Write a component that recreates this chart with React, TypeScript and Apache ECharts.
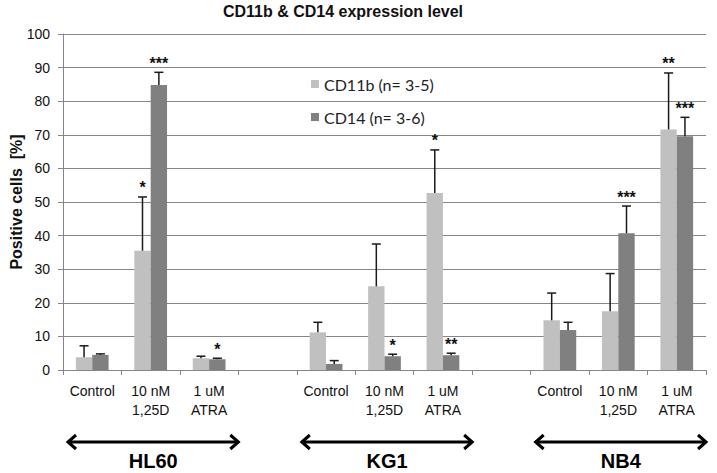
import React, { useEffect, useRef } from "react";
import * as echarts from "echarts";

const categories = [
  "Control", "10 nM\n1,25D", "1 uM\nATRA", "",
  "Control", "10 nM\n1,25D", "1 uM\nATRA", "",
  "Control", "10 nM\n1,25D", "1 uM\nATRA",
];
const cd11b = [3.8, 35.5, 3.5, null, 11.2, 24.9, 52.7, null, 14.8, 17.5, 71.6];
const cd11bErr = [3.4, 16.0, 0.6, null, 3.0, 12.6, 12.8, null, 8.1, 11.2, 16.8];
const cd14 = [4.5, 84.8, 3.2, null, 1.8, 4.1, 4.4, null, 11.9, 40.7, 69.6];
const cd14Err = [0.3, 3.8, 0.3, null, 1.0, 0.6, 0.6, null, 2.3, 8.1, 5.6];
const cd11bStars = ["", "*", "", "", "", "", "*", "", "", "", "**"];
const cd14Stars = ["", "***", "*", "", "", "*", "**", "", "", "***", "***"];
const groups = [
  { name: "HL60", from: 0, to: 2 },
  { name: "KG1", from: 4, to: 6 },
  { name: "NB4", from: 8, to: 10 },
];
const yTicks = { min: 0, max: 100, interval: 10 };

const FONT = "Liberation Sans, Arial, sans-serif";

function errSeries(name: string, vals: (number | null)[], errs: (number | null)[], stars: string[], sign: number) {
  const data = vals.map((v, i) => (v == null ? [i, NaN, 0] : [i, v, errs[i] as number]));
  return {
    type: "custom",
    name: name + "-err",
    silent: true,
    z: 5,
    data,
    encode: { x: 0, y: 1 },
    renderItem: (params: any, api: any) => {
      const idx = api.value(0);
      const v = api.value(1);
      const e = api.value(2);
      if (isNaN(v)) return { type: "group", children: [] };
      const band = api.size([1, 0])[0];
      const xOff = sign * band * 0.14;
      const p0 = api.coord([idx, v]);
      const p1 = api.coord([idx, v + e]);
      const x = p0[0] + xOff;
      const st = { stroke: "#1a1a1a", lineWidth: 1.5 };
      const children: any[] = [
        { type: "line", shape: { x1: x, y1: p0[1], x2: x, y2: p1[1] }, style: st },
        { type: "line", shape: { x1: x - 4.5, y1: p1[1], x2: x + 4.5, y2: p1[1] }, style: st },
      ];
      const s = stars[params.dataIndex];
      if (s) {
        children.push({
          type: "text",
          style: {
            text: s,
            x,
            y: p1[1] - 1,
            align: "center",
            verticalAlign: "bottom",
            fill: "#111",
            font: "bold 16px " + FONT,
          },
        });
      }
      return { type: "group", children };
    },
  };
}

export default function App() {
  const ref = useRef<HTMLDivElement>(null);
  useEffect(() => {
    if (!ref.current) return;
    const chart = echarts.init(ref.current, null, { renderer: "svg" });
    const option: any = {
      animation: false,
      backgroundColor: "#fff",
      title: {
        text: "CD11b & CD14 expression level",
        left: 343,
        textAlign: "center",
        top: 3,
        padding: 0,
        textStyle: { fontFamily: FONT, fontWeight: "bold", fontSize: 16, color: "#111" },
      },
      legend: {
        orient: "vertical",
        left: 311,
        top: 76,
        padding: 0,
        itemGap: 17,
        itemWidth: 8,
        itemHeight: 8,
        icon: "rect",
        textStyle: { fontFamily: "Lato, sans-serif", fontSize: 16, color: "#222" },
        data: ["CD11b (n= 3-5)", "CD14 (n= 3-6)"],
      },
      grid: {
        left: 63,
        right: 11,
        top: 34,
        bottom: 103,
        containLabel: false,
        outerBoundsMode: "none",
      },
      xAxis: {
        type: "category",
        data: categories,
        axisLine: { lineStyle: { color: "#868686" } },
        axisTick: { show: true, length: 5, lineStyle: { color: "#868686" } },
        axisLabel: {
          interval: 0,
          margin: 11,
          fontFamily: FONT,
          fontSize: 14,
          lineHeight: 19,
          color: "#111",
        },
      },
      yAxis: {
        type: "value",
        min: yTicks.min,
        max: yTicks.max,
        interval: yTicks.interval,
        name: "Positive cells  [%]",
        nameLocation: "middle",
        nameGap: 39,
        nameMoveOverlap: false,
        nameTextStyle: { fontFamily: FONT, fontWeight: "bold", fontSize: 16, color: "#111" },
        axisLine: { show: true, lineStyle: { color: "#868686" } },
        axisTick: { show: true, length: 5, lineStyle: { color: "#868686" } },
        axisLabel: { fontFamily: FONT, fontSize: 14, color: "#111", margin: 13 },
        splitLine: { lineStyle: { color: "#868686", width: 1 } },
      },
      series: [
        {
          type: "bar",
          name: "CD11b (n= 3-5)",
          data: cd11b,
          barWidth: "28%",
          barGap: "0%",
          itemStyle: { color: "#c0c0c0" },
        },
        {
          type: "bar",
          name: "CD14 (n= 3-6)",
          data: cd14,
          barWidth: "28%",
          barGap: "0%",
          itemStyle: { color: "#808080" },
        },
        errSeries("CD11b", cd11b, cd11bErr, cd11bStars, -1),
        errSeries("CD14", cd14, cd14Err, cd14Stars, 1),
      ],
    };
    chart.setOption(option);

    const c0 = chart.convertToPixel({ xAxisIndex: 0 }, 0) as number;
    const c1 = chart.convertToPixel({ xAxisIndex: 0 }, 1) as number;
    const band = c1 - c0;
    const ay = 442;
    const graphics: any[] = [];
    groups.forEach((g) => {
      const a = (chart.convertToPixel({ xAxisIndex: 0 }, g.from) as number) - band / 2 + 4;
      const b = (chart.convertToPixel({ xAxisIndex: 0 }, g.to) as number) + band / 2 + 1;
      const st = { stroke: "#000", lineWidth: 3, fill: null, lineJoin: "miter", lineCap: "butt" };
      graphics.push({ type: "line", shape: { x1: a + 1, y1: ay, x2: b - 1, y2: ay }, style: st });
      graphics.push({ type: "polyline", shape: { points: [[a + 9, ay - 7], [a + 1, ay], [a + 9, ay + 7]] }, style: st });
      graphics.push({ type: "polyline", shape: { points: [[b - 9, ay - 7], [b - 1, ay], [b - 9, ay + 7]] }, style: st });
      graphics.push({
        type: "text",
        style: {
          text: g.name,
          x: (a + b) / 2,
          y: 461,
          align: "center",
          verticalAlign: "middle",
          font: "bold 20px " + FONT,
          fill: "#000",
        },
      });
    });
    chart.setOption({ graphic: graphics });
    return () => chart.dispose();
  }, []);
  return (
    <div
      ref={ref}
      style={{ position: "fixed", left: 0, top: 0, width: 717, height: 473 }}
    />
  );
}
